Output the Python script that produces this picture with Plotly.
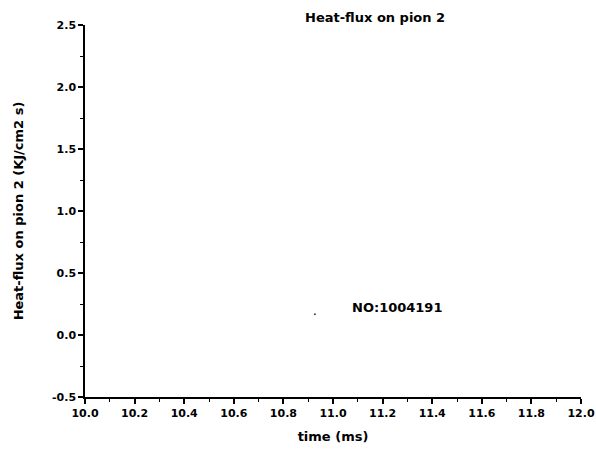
import plotly.graph_objects as go

# Data
time_ms = [10.927]
heat_flux = [0.167]
x_ticks = [10.0, 10.2, 10.4, 10.6, 10.8, 11.0, 11.2, 11.4, 11.6, 11.8, 12.0]
y_ticks = [-0.5, 0.0, 0.5, 1.0, 1.5, 2.0, 2.5]
shot_label = "NO:1004191"
title_text = "Heat-flux on pion 2"

fnt = dict(family="DejaVu Sans, Verdana, sans-serif", color="black")

W, H = 596, 450
L, T, R = 85, 25, 15
B = H - 397
pw = W - L - R
ph = H - T - B

fig = go.Figure()
fig.add_trace(go.Scatter(x=time_ms, y=heat_flux, mode="markers",
                         marker=dict(size=2, color="#444"), showlegend=False,
                         hoverinfo="skip"))

fig.update_layout(
    width=W, height=H,
    margin=dict(l=L, r=R, t=T, b=B, autoexpand=False),
    paper_bgcolor="white", plot_bgcolor="white",
    showlegend=False,
    xaxis=dict(range=[10.0, 12.0], tickvals=x_ticks, automargin=False,
               ticktext=[f"{v:.1f}" for v in x_ticks],
               showline=True, linecolor="black", linewidth=1.5,
               ticks="outside", ticklen=5, tickwidth=1.5, tickcolor="black",
               minor=dict(dtick=0.1, ticks="outside", ticklen=3, tickwidth=1, tickcolor="black"),
               showgrid=False, zeroline=False, mirror=False,
               tickfont=dict(size=11, weight="bold", **fnt),
               title=dict(text="time (ms)", font=dict(size=13, weight="bold", **fnt), standoff=13)),
    yaxis=dict(range=[-0.5, 2.5], tickvals=y_ticks, automargin=False,
               ticktext=[f"{v:.1f}" for v in y_ticks],
               showline=True, linecolor="black", linewidth=1.5,
               ticks="outside", ticklen=5, tickwidth=1.5, tickcolor="black",
               minor=dict(dtick=0.25, ticks="outside", ticklen=3, tickwidth=1, tickcolor="black"),
               showgrid=False, zeroline=False, mirror=False,
               tickfont=dict(size=11, weight="bold", **fnt),
               title=dict(text="Heat-flux on pion 2 (KJ/cm2 s)", font=dict(size=13, weight="bold", **fnt), standoff=25)),
    annotations=[
        dict(text=title_text, x=(375 - L) / pw, y=(H - B - 17) / ph, xref="paper", yref="paper",
             yanchor="middle", showarrow=False, font=dict(size=13, weight="bold", **fnt)),
        dict(text=shot_label, x=11.258, y=0.222, xref="x", yref="y",
             showarrow=False, font=dict(size=13, weight="bold", **fnt)),
    ],
)

fig.write_html("out.html", config={"displayModeBar": False},
               post_script="document.body.style.margin='0';document.body.style.overflow='hidden';")
